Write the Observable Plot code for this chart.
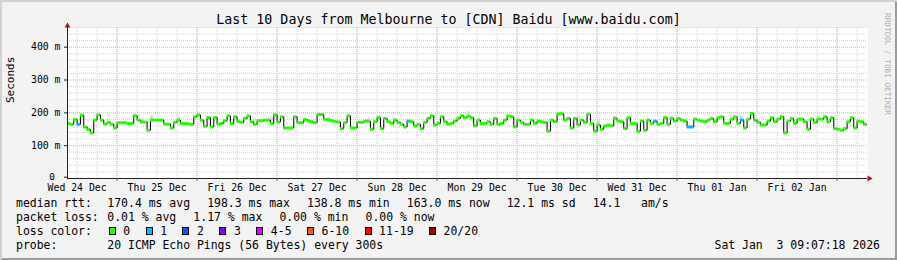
<!DOCTYPE html>
<html>
<head>
<meta charset="utf-8">
<script src="https://cdn.jsdelivr.net/npm/d3@7"></script>
<script src="https://cdn.jsdelivr.net/npm/@observablehq/plot@0.6"></script>
<style>
  html, body { margin:0; padding:0; background:#f3f3f3; }
  #card { position:relative; width:897px; height:260px; background:#f3f3f3; overflow:hidden;
          box-shadow: inset 2px 2px 0 #d2d2d2, inset -2px -2px 0 #9c9c9c;
          font-family:"DejaVu Sans Mono", monospace; color:#000; }
  .abs { position:absolute; white-space:pre; line-height:1; }
  #chart { position:absolute; left:0; top:0; }
  .box { display:inline-block; width:7px; height:8px; border:1px solid #000; box-sizing:border-box; vertical-align:baseline; margin-right:7.6px; }
</style>
</head>
<body>
<div id="card"><div id="chart"></div></div>
<script>
// ---------------- data ----------------
const titleText = "Last 10 Days from Melbourne to [CDN] Baidu [www.baidu.com]";
const start = new Date(Date.UTC(2025, 11, 24, 9, 7, 18));
const end = new Date(Date.UTC(2026, 0, 3, 9, 7, 18));
const firstHour = new Date(Date.UTC(2025, 11, 24, 9, 0, 0));

// hourly median rtt (ms)
const medianRtt = [
 168,165,180,165,193,157,149,139,178,194,
 178,166,171,165,154,170,170,170,168,168,
 191,178,172,172,147,178,178,178,178,166,
 166,154,171,178,168,168,167,165,188,194,
 178,159,186,157,186,166,168,176,191,168,
 188,174,171,183,191,173,165,176,176,178,
 178,168,194,172,188,154,154,154,188,170,
 170,180,176,173,170,195,195,180,180,176,
 174,172,152,170,191,154,154,171,171,175,
 175,150,173,185,152,183,173,168,178,171,
 165,157,175,173,160,165,152,171,183,191,
 163,168,188,173,165,168,175,183,191,185,
 190,185,160,178,168,168,173,165,183,165,
 168,178,191,188,157,178,171,165,165,178,
 168,175,173,171,144,178,173,197,197,178,
 183,154,183,163,178,171,196,168,144,163,
 150,160,163,160,183,175,173,152,185,168,
 168,144,175,147,178,168,175,165,168,185,
 165,183,175,183,178,175,157,157,181,178,
 175,173,178,183,173,185,188,168,168,181,
 188,168,178,154,181,198,178,171,163,163,
 175,185,173,181,188,139,175,183,168,181,
 181,173,150,181,171,181,181,188,173,185,
 152,150,147,152,173,185,154,175,173,165
];
// hours where 1 of 20 pings was lost
const lossHours = [3, 102, 176, 186, 187, 202];
// visible smoke: [hour, low ms, high ms]
const smoke = [
 [22,172,182],[25,180,192],[33,178,186],[61,175,186],[90,173,180],[93,183,192],
 [98,177,182],[103,174,180],[117,182,189],[120,192,203],[153,182,190],[159,165,178],
 [164,183,190],[179,183,190],[181,184,189],[202,180,189],[225,183,190]
];
const dayLabels = ["Wed 24 Dec","Thu 25 Dec","Fri 26 Dec","Sat 27 Dec","Sun 28 Dec",
                   "Mon 29 Dec","Tue 30 Dec","Wed 31 Dec","Thu 01 Jan","Fri 02 Jan"];
const yTicks = [0, 100, 200, 300, 400];
const yMax = 460;
const lossLabels = ["0","1","2","3","4-5","6-10","11-19","20/20"];
const lossColors = ["#26ff00","#00b8ff","#0059ff","#7e00ff","#dd00ff","#ff5500","#ff0000","#a10000"];
const rttStats = ["170.4 ms avg","198.3 ms max","138.8 ms min","163.0 ms now","12.1 ms sd","14.1   am/s"];
const lossStats = ["0.01 % avg","1.17 % max","0.00 % min","0.00 % now"];
const probeText = "20 ICMP Echo Pings (56 Bytes) every 300s";
const stampText = "Sat Jan  3 09:07:18 2026";
const watermark = "RRDTOOL / TOBI OETIKER";

// ---------------- derived tables ----------------
const hr = i => d3.utcHour.offset(firstHour, i);
const rows = medianRtt.map((v, i) => ({t0: hr(i), t1: hr(i + 1), v, c: lossColors[lossHours.includes(i) ? 1 : 0]}));
const stepPts = rows.map(r => ({t: r.t0, v: r.v})).concat([{t: rows[rows.length - 1].t1, v: rows[rows.length - 1].v}]);
const smokeRows = smoke.map(([i, lo, hi]) => ({t0: hr(i), t1: hr(i + 1), lo, hi}));
const noon = dayLabels.map((label, k) => ({t: d3.utcHour.offset(d3.utcDay.floor(start), 12 + 24 * k), label}));
const majorX = d3.utcDay.range(start, end);
const minorX = d3.utcHour.every(6).range(start, end);
const minorY = d3.range(20, yMax + 1, 20).filter(v => v % 100 !== 0);

const gridMinor = {stroke: "#d4d4d4", strokeDasharray: "1,1"};
const gridMajor = {stroke: "#eba3a3", strokeDasharray: "1,1"};
const axisCol = "#222";

const chart = Plot.plot({
  width: 897, height: 195,
  marginTop: 27, marginBottom: 17, marginLeft: 67, marginRight: 30,
  x: {type: "utc", domain: [start, end], axis: null},
  y: {domain: [0, yMax], axis: null},
  color: {type: "identity"},
  style: {background: "transparent", fontFamily: "DejaVu Sans Mono", overflow: "visible", color: "#000"},
  marks: [
    Plot.frame({fill: "#ffffff", stroke: "none"}),
    Plot.ruleY(minorY, gridMinor),
    Plot.ruleX(minorX, gridMinor),
    Plot.ruleY(yTicks.filter(v => v > 0), gridMajor),
    Plot.ruleX(majorX, gridMajor),
    Plot.rect(smokeRows, {x1: "t0", x2: "t1", y1: "lo", y2: "hi", fill: "#dadada", clip: true}),
    Plot.line(stepPts, {x: "t", y: "v", curve: "step-after", stroke: "#000", strokeWidth: 1, clip: true}),
    Plot.ruleY(rows, {y: "v", x1: "t0", x2: "t1", stroke: "c", strokeWidth: 3, clip: true}),
    Plot.ruleY([0], {stroke: axisCol}),
    Plot.ruleX([start], {stroke: axisCol}),
    Plot.axisY(yTicks.filter(v => v > 0), {tickSize: 3, tickPadding: 4, tickFormat: v => `${v} m`, fontSize: 9.8, label: null, stroke: axisCol}),
    Plot.axisY([0], {tickSize: 3, tickPadding: 9.5, tickFormat: v => `${v}`, fontSize: 9.4, dy: -1.3, label: null, stroke: axisCol}),
    Plot.axisX(majorX, {tickSize: 3, tickFormat: () => "", label: null, stroke: "#d04040"}),
    Plot.text(noon, {x: "t", text: "label", frameAnchor: "bottom", dy: 12.6, fontSize: 9.8}),
    Plot.text(["Seconds"], {x: null, y: null, text: d => d, frameAnchor: "left", dx: -57, rotate: -90, fontSize: 11}),
    Plot.dot([0], {x: null, y: null, frameAnchor: "top-left", dy: -1.7, symbol: "triangle", r: 2.2, fill: "#9e1a1a", stroke: "none"}),
    Plot.dot([0], {x: null, y: null, frameAnchor: "bottom-right", dx: 1.7, rotate: 90, symbol: "triangle", r: 2.2, fill: "#9e1a1a", stroke: "none"})
  ]
});
document.getElementById("chart").appendChild(chart);

// ---------------- texts ----------------
const card = document.getElementById("card");
const FS = 11.46;
function textDiv(txt, left, baseline, size, extra = {}) {
  const d = document.createElement("div");
  d.className = "abs";
  if (txt !== null) d.textContent = txt;
  d.style.left = left + "px";
  d.style.top = (baseline - 0.846 * size) + "px";
  d.style.fontSize = size + "px";
  Object.assign(d.style, extra);
  card.appendChild(d);
  return d;
}
textDiv(titleText, 0, 24, 13.3, {width: "897px", textAlign: "center"});
const wm = textDiv(watermark, 883, 19.5, 7.7, {writingMode: "vertical-rl", color: "#acacac"});
wm.style.top = "13px";

function statRow(label, items, baseline) {
  textDiv(label, 16, baseline, FS);
  const c = textDiv(null, 107.3, baseline, FS);
  items.forEach(t => {
    const s = document.createElement("span");
    s.textContent = t;
    s.style.marginRight = "17.1px";
    c.appendChild(s);
  });
}
statRow("median rtt:", rttStats, 207.7);
statRow("packet loss:", lossStats, 221.7);

textDiv("loss color:", 16, 235.7, FS);
const lc = textDiv(null, 108.7, 235.7, FS);
lossLabels.forEach((lab, k) => {
  const b = document.createElement("span");
  b.className = "box";
  b.style.background = lossColors[k];
  lc.appendChild(b);
  const s = document.createElement("span");
  s.textContent = lab;
  s.style.marginRight = "15.4px";
  lc.appendChild(s);
});

textDiv("probe:", 16, 249.7, FS);
textDiv(probeText, 107.3, 249.7, FS);
textDiv(stampText, 0, 249.7, FS, {width: "880px", textAlign: "right"});
</script>
</body>
</html>
